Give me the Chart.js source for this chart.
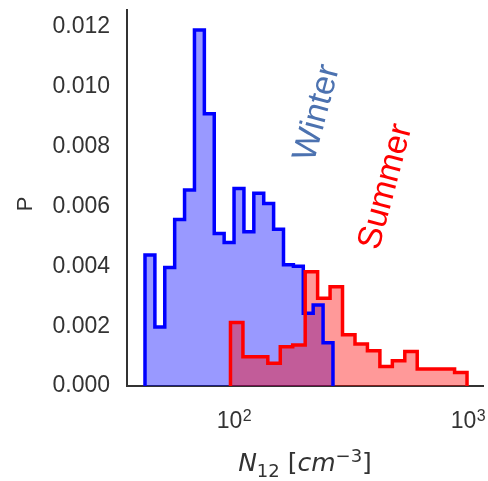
<!DOCTYPE html>
<html>
<head>
<meta charset="utf-8">
<script src="https://cdn.jsdelivr.net/npm/chart.js@4/dist/chart.umd.min.js"></script>
<style>
html, body { margin: 0; padding: 0; background: #ffffff; }
#wrap { width: 488px; height: 481px; }
</style>
</head>
<body>
<div id="wrap"><canvas id="c" width="488" height="481"></canvas></div>
<script>
// ---- data ----
const winterEdges = [41.66, 45.92, 50.61, 55.79, 61.49, 67.78, 74.71, 82.35, 90.77, 100.05,
                     110.28, 121.55, 133.98, 147.67, 162.77, 179.42, 197.76, 217.98, 240.27, 264.85];
const winterValues = [0.00438, 0.00197, 0.00396, 0.00557, 0.00655, 0.0119, 0.0091, 0.0051, 0.0048, 0.0066,
                      0.00516, 0.00644, 0.0061, 0.00524, 0.00405, 0.00400, 0.00243, 0.00271, 0.00145];
const summerEdges = [96.6, 109.2, 123.4, 139.5, 157.7, 178.2, 201.5, 227.7, 257.4, 290.9,
                     328.9, 371.7, 420.2, 475.0, 536.9, 606.7, 685.9, 775.3, 876.3, 990.4];
const summerValues = [0.00212, 0.00098, 0.00098, 0.00076, 0.00131, 0.00137, 0.00382, 0.00293, 0.00332, 0.00171,
                      0.0014, 0.00118, 0.00065, 0.00084, 0.00115, 0.00057, 0.00057, 0.00057, 0.00045];
const yTicks = [0, 0.002, 0.004, 0.006, 0.008, 0.010, 0.012];
const xTicks = [100, 1000];
const xTickBase = ['10', '10'];
const xTickExp = ['2', '3'];
const seriesNames = ['Winter', 'Summer'];
const labelX = [227.4, 446.3];
const labelY = [0.00913, 0.00666];
const yAxisTitle = 'P';

function stepPoints(edges, values) {
  const pts = [{ x: edges[0], y: 0 }];
  for (let i = 0; i < values.length; i++) pts.push({ x: edges[i], y: values[i] });
  pts.push({ x: edges[edges.length - 1], y: 0 });
  return pts;
}

const TXT = '#333333';
const SANS = '"Liberation Sans", Arial, sans-serif';

function fixBox(w, h) {
  return function (scale) {
    if (w !== null) scale.width = w;
    if (h !== null) scale.height = h;
    scale.paddingTop = 0; scale.paddingBottom = 0;
    scale.paddingLeft = 0; scale.paddingRight = 0;
  };
}

const textPlugin = {
  id: 'texts',
  afterDraw(chart) {
    const ctx = chart.ctx;
    const xs = chart.scales.x, ys = chart.scales.y;
    // x tick labels with superscripts
    ctx.save();
    ctx.fillStyle = TXT;
    ctx.textBaseline = 'alphabetic';
    ctx.textAlign = 'left';
    for (let i = 0; i < xTicks.length; i++) {
      ctx.font = '23px ' + SANS;
      const wb = ctx.measureText(xTickBase[i]).width;
      ctx.font = '16px ' + SANS;
      const we = ctx.measureText(xTickExp[i]).width;
      const x0 = xs.getPixelForValue(xTicks[i]) - (wb + we) / 2;
      ctx.font = '23px ' + SANS;
      ctx.fillText(xTickBase[i], x0, 428);
      ctx.font = '16px ' + SANS;
      ctx.fillText(xTickExp[i], x0 + wb + 0.5, 421);
    }
    ctx.restore();
    // series annotations
    const colors = ['#4C72B0', '#ff0000'];
    for (let i = 0; i < seriesNames.length; i++) {
      ctx.save();
      ctx.translate(xs.getPixelForValue(labelX[i]), ys.getPixelForValue(labelY[i]));
      ctx.rotate(-75 * Math.PI / 180);
      ctx.font = '34px ' + SANS;
      ctx.fillStyle = colors[i];
      ctx.textAlign = 'center';
      ctx.textBaseline = 'middle';
      ctx.fillText(seriesNames[i], 0, 0);
      ctx.restore();
    }
    // y title
    ctx.save();
    ctx.translate(26, 204);
    ctx.rotate(-Math.PI / 2);
    ctx.font = '22px ' + SANS;
    ctx.fillStyle = TXT;
    ctx.textAlign = 'center';
    ctx.textBaseline = 'middle';
    ctx.fillText(yAxisTitle, 0, 0);
    ctx.restore();
    // x title: N_12 [cm^-3]
    const parts = [
      { t: 'N', f: 'italic 25px "DejaVu Sans"', dy: 0 },
      { t: '12', f: '18px "DejaVu Sans"', dy: 6 },
      { t: ' [', f: '25px "DejaVu Sans"', dy: 0 },
      { t: 'cm', f: 'italic 25px "DejaVu Sans"', dy: 0 },
      { t: '\u22123', f: '18px "DejaVu Sans"', dy: -9 },
      { t: ']', f: '25px "DejaVu Sans"', dy: 0 }
    ];
    ctx.save();
    ctx.fillStyle = TXT;
    ctx.textBaseline = 'alphabetic';
    ctx.textAlign = 'left';
    let total = 0;
    parts.forEach(p => { ctx.font = p.f; p.w = ctx.measureText(p.t).width; total += p.w; });
    let cx = (chart.chartArea.left + chart.chartArea.right) / 2 - total / 2;
    const base = 471;
    parts.forEach(p => { ctx.font = p.f; ctx.fillText(p.t, cx, base + p.dy); cx += p.w; });
    ctx.restore();
  }
};

const chart = new Chart(document.getElementById('c'), {
  type: 'line',
  data: {
    datasets: [
      {
        label: seriesNames[1],
        data: stepPoints(summerEdges, summerValues),
        stepped: 'before',
        borderColor: '#ff0000',
        backgroundColor: 'rgba(255,0,0,0.4)',
        borderWidth: 3.5,
        pointRadius: 0,
        fill: 'origin',
        borderJoinStyle: 'miter'
      },
      {
        label: seriesNames[0],
        data: stepPoints(winterEdges, winterValues),
        stepped: 'before',
        borderColor: '#0000ff',
        backgroundColor: 'rgba(0,0,255,0.4)',
        borderWidth: 3.5,
        pointRadius: 0,
        fill: 'origin',
        borderJoinStyle: 'miter'
      }
    ]
  },
  options: {
    responsive: false,
    animation: false,
    devicePixelRatio: 1,
    layout: { padding: { left: 0, right: 5, top: 10, bottom: 0 } },
    plugins: {
      legend: { display: false },
      tooltip: { enabled: false },
      filler: { drawTime: 'beforeDatasetsDraw' }
    },
    scales: {
      x: {
        type: 'logarithmic',
        min: 34.9,
        max: 1159,
        grid: { display: false, drawTicks: false },
        border: { display: true, color: '#333333', width: 2 },
        afterFit: fixBox(null, 95),
        afterBuildTicks: (scale) => { scale.ticks = xTicks.map(v => ({ value: v })); },
        ticks: { display: false }
      },
      y: {
        type: 'linear',
        min: 0,
        max: 0.01257,
        grid: { display: false, drawTicks: false },
        border: { display: true, color: '#333333', width: 2 },
        afterFit: fixBox(127, null),
        afterBuildTicks: (scale) => { scale.ticks = yTicks.map(v => ({ value: v })); },
        ticks: {
          autoSkip: false,
          padding: 17,
          color: TXT,
          font: { family: SANS, size: 23 },
          callback: (value) => Number(value).toFixed(3)
        }
      }
    }
  },
  plugins: [textPlugin]
});
</script>
</body>
</html>
